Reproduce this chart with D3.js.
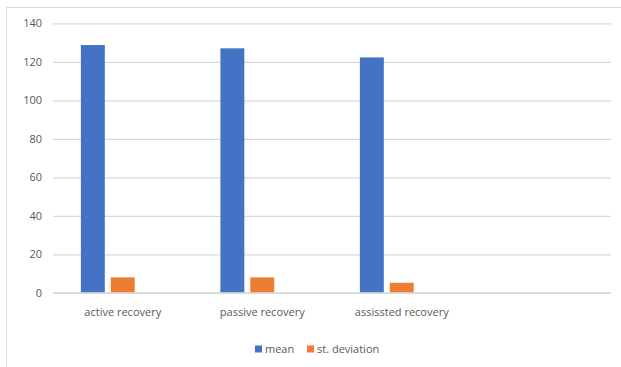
<!DOCTYPE html>
<html>
<head>
<meta charset="utf-8">
<script src="https://cdn.jsdelivr.net/npm/d3@7"></script>
<style>
  html, body { margin: 0; padding: 0; background: #fff; }
  svg { display: block; }
  text { font-family: "Open Sans", "Noto Sans", sans-serif; fill: #595959; }
</style>
</head>
<body>
<svg id="chart" width="621" height="367"></svg>
<script>
// Data (4th category slot and 3rd series slot are empty, as in the source chart)
const categories = ["active recovery", "passive recovery", "assissted recovery", ""];
const seriesNames = ["mean", "st. deviation", ""];
const meanValues = [128.7, 127.0, 122.3, null];
const sdValues = [8.0, 8.0, 5.2, null];
const emptyValues = [null, null, null, null];
const yTicks = [0, 20, 40, 60, 80, 100, 120, 140];
const colors = ["#4472C4", "#ED7D31", "#A5A5A5"];

const svg = d3.select("#chart");
const W = 621, H = 367;
const plotL = 53, plotR = 611, plotT = 23.3, plotB = 292.8;

// chart border
svg.append("rect")
  .attr("x", 6.5).attr("y", 7.5)
  .attr("width", W + 10).attr("height", H + 10)
  .attr("fill", "#fff").attr("stroke", "#d9d9d9").attr("stroke-width", 1);

const y = d3.scaleLinear().domain([0, 140]).range([plotB, plotT]);
const x0 = d3.scaleBand().domain(d3.range(categories.length)).range([plotL, plotR])
  .paddingInner(0.4).paddingOuter(0.2);
const x1 = d3.scaleBand().domain(d3.range(seriesNames.length)).range([0, x0.bandwidth()])
  .paddingInner(0.2).paddingOuter(0);

// gridlines
const yAxis = d3.axisLeft(y).tickValues(yTicks).tickSize(-(plotR - plotL)).tickPadding(11);
const gy = svg.append("g").attr("transform", `translate(${plotL},0)`).call(yAxis);
gy.select(".domain").remove();
gy.selectAll(".tick line").attr("stroke", "#d9d9d9").attr("stroke-width", 1.2);
gy.selectAll(".tick text").attr("font-size", "11px").attr("fill", "#595959")
  .style("font-family", '"Open Sans", sans-serif');

// bars
const series = [meanValues, sdValues, emptyValues];
series.forEach((vals, si) => {
  svg.append("g").selectAll("rect")
    .data(vals.map((v, i) => ({ v, i })).filter(d => d.v != null))
    .join("rect")
    .attr("x", d => x0(d.i) + x1(si))
    .attr("width", x1.bandwidth())
    .attr("y", d => y(d.v))
    .attr("height", d => y(0) - y(d.v))
    .attr("fill", colors[si]);
});

// x axis
const xAxis = d3.axisBottom(x0).tickFormat(i => categories[i]).tickSize(0).tickPadding(15);
const gx = svg.append("g").attr("transform", `translate(0,${plotB})`).call(xAxis);
gx.select(".domain").attr("stroke", "#d9d9d9").attr("stroke-width", 1.2)
  .attr("d", `M${plotL},0H${plotR}`);
gx.selectAll(".tick text").attr("font-size", "11px").attr("fill", "#595959")
  .style("font-family", '"Open Sans", sans-serif');

// legend
const legendItems = [
  { name: seriesNames[0], color: colors[0], x: 255 },
  { name: seriesNames[1], color: colors[1], x: 307 }
];
const lg = svg.append("g");
legendItems.forEach(it => {
  lg.append("rect").attr("x", it.x).attr("y", 345.5).attr("width", 7).attr("height", 7).attr("fill", it.color);
  lg.append("text").attr("x", it.x + 10).attr("y", 353).attr("font-size", "11px").text(it.name);
});
</script>
</body>
</html>
